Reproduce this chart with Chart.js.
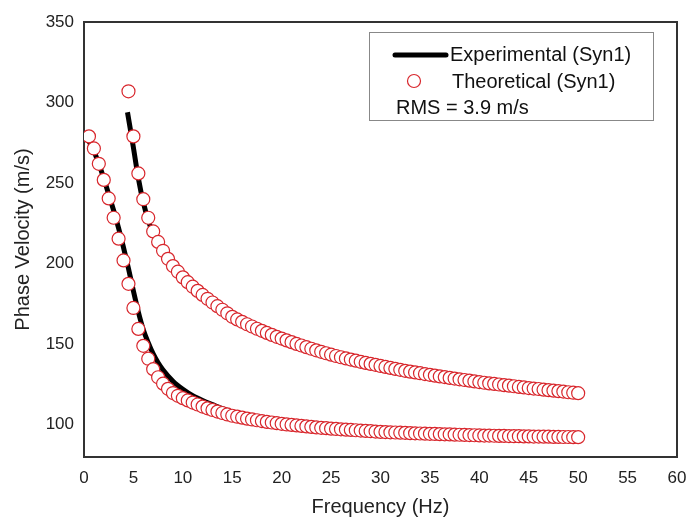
<!DOCTYPE html>
<html>
<head>
<meta charset="utf-8">
<script src="https://cdn.jsdelivr.net/npm/chart.js@4"></script>
<style>
  html, body { margin: 0; padding: 0; background: #fff; }
  #wrap { width: 688px; height: 522px; }
</style>
</head>
<body>
<div id="wrap"><canvas id="dispChart" width="688" height="522"></canvas></div>
<script>
  'use strict';

  // theoretical frequencies (Hz), shared by both modes
  var theoFreq = [0.5,1,1.5,2,2.5,3,3.5,4,4.5,5,5.5,6,6.5,7,7.5,8,8.5,9,9.5,10,
    10.5,11,11.5,12,12.5,13,13.5,14,14.5,15,15.5,16,16.5,17,17.5,18,18.5,19,19.5,20,
    20.5,21,21.5,22,22.5,23,23.5,24,24.5,25,25.5,26,26.5,27,27.5,28,28.5,29,29.5,30,
    30.5,31,31.5,32,32.5,33,33.5,34,34.5,35,35.5,36,36.5,37,37.5,38,38.5,39,39.5,40,
    40.5,41,41.5,42,42.5,43,43.5,44,44.5,45,45.5,46,46.5,47,47.5,48,48.5,49,49.5,50];

  // fundamental mode, theoretical (m/s)
  var theoVel0 = [279,271.5,262,252,240.5,228.5,215.5,202,187.5,172.5,
    159.5,149,141,134.5,129.5,125.5,122.3,119.7,118,116.5,
    115.1,113.8,112.6,111.3,110.2,109.2,108.2,107.3,106.4,105.6,
    105,104.4,103.8,103.3,102.8,102.3,101.8,101.4,101,100.6,
    100.2,99.9,99.6,99.3,99,98.7,98.4,98.1,97.9,97.6,
    97.4,97.2,97,96.8,96.6,96.4,96.2,96,95.8,95.6,
    95.5,95.3,95.2,95.1,95,94.8,94.7,94.6,94.5,94.4,
    94.3,94.2,94.1,94,93.9,93.8,93.7,93.6,93.5,93.4,
    93.3,93.3,93.2,93.1,93.1,93,92.9,92.9,92.8,92.8,
    92.7,92.7,92.6,92.6,92.5,92.5,92.4,92.4,92.3,92.3];

  // first higher mode, theoretical (m/s), starts at 4.5 Hz
  var theoFreq1 = theoFreq.slice(8);
  var theoVel1 = [307,279,
    256,240,228.5,220,213.5,208,203,198.5,195,191.5,
    188.5,185.7,183.1,180.6,178.2,175.9,173.6,171.4,169.2,167,
    165.4,163.9,162.4,161,159.6,158.3,157,155.8,154.6,153.5,
    152.4,151.3,150.2,149.2,148.2,147.2,146.2,145.3,144.4,143.5,
    142.7,141.9,141.2,140.5,139.8,139.1,138.4,137.8,137.2,136.5,
    135.9,135.3,134.7,134.1,133.5,133,132.5,132,131.5,131,
    130.5,130,129.6,129.1,128.7,128.2,127.8,127.4,126.9,126.5,
    126.1,125.7,125.4,125,124.6,124.3,123.9,123.5,123.2,122.8,
    122.5,122.2,121.8,121.5,121.2,120.9,120.6,120.2,119.9,119.6];

  // experimental curves
  var expFreq0 = [0.3,0.5,1,1.5,2,2.5,3,3.5,4,4.5,5,5.5,6,6.5,7,7.5,8,9,10,11,12,13,14,15,17,20,25,30,35,40,45,50];
  var expVel0 = [278,276,270,262,253,243,233,222,210,197,183,170,159,151,144,138.5,134,127,122,118,115,112.5,110,108,104.5,101.2,98,96,94.6,93.6,92.9,92.4];
  var expFreq1 = [4.4,5,5.5,6,6.5,7,8,9,10,12,15,20,25,30,35,40,45,50];
  var expVel1 = [294,272,253,238,227,218.5,207,198,190.5,180,166.5,153,143,136.2,130.8,126.3,122.6,119.5];

  var yTicks = [100,150,200,250,300,350];
  var legendLabels = ['Experimental (Syn1)', 'Theoretical (Syn1)'];
  var rmsText = 'RMS = 3.9 m/s';

  var circleColor = '#d8262c';
  var fontName = '"Liberation Sans", Arial, sans-serif';

  function pts(xs, ys) {
    var out = [];
    for (var i = 0; i < xs.length; i++) out.push({x: xs[i], y: ys[i]});
    return out;
  }

  var lineStyle = {
    showLine: true, borderColor: '#000', borderWidth: 5, pointRadius: 0,
    cubicInterpolationMode: 'monotone', fill: false, order: 2
  };
  var dotStyle = {
    showLine: false, pointRadius: 6.5, pointBorderWidth: 1.2,
    pointBorderColor: circleColor, pointBackgroundColor: '#fff', order: 1
  };

  var frameAndLegend = {
    id: 'frameAndLegend',
    beforeDatasetsDraw: function(chart) {
      var a = chart.chartArea, ctx = chart.ctx;
      ctx.save();
      ctx.strokeStyle = '#333';
      ctx.lineWidth = 2;
      ctx.strokeRect(a.left, a.top, a.right - a.left, a.bottom - a.top);
      ctx.restore();
    },
    afterDraw: function(chart) {
      var ctx = chart.ctx;
      ctx.save();
      ctx.fillStyle = '#fff';
      ctx.fillRect(369, 32, 284, 88);
      ctx.strokeStyle = '#888';
      ctx.lineWidth = 1;
      ctx.strokeRect(369.5, 32.5, 284, 88);
      // line sample
      ctx.strokeStyle = '#000';
      ctx.lineWidth = 5;
      ctx.lineCap = 'round';
      ctx.beginPath();
      ctx.moveTo(395, 55);
      ctx.lineTo(446, 55);
      ctx.stroke();
      // circle sample
      ctx.strokeStyle = circleColor;
      ctx.lineWidth = 1.2;
      ctx.beginPath();
      ctx.arc(414, 81, 6.5, 0, Math.PI * 2);
      ctx.stroke();
      ctx.fillStyle = '#111';
      ctx.font = '20px ' + fontName;
      ctx.textBaseline = 'middle';
      ctx.fillText(legendLabels[0], 450, 55);
      ctx.fillText(legendLabels[1], 452, 82);
      ctx.fillText(rmsText, 396, 108);
      ctx.restore();
    }
  };

  var ctx = document.getElementById('dispChart').getContext('2d');
  new Chart(ctx, {
    type: 'scatter',
    data: {
      datasets: [
        Object.assign({label: legendLabels[0], data: pts(expFreq0, expVel0)}, lineStyle),
        Object.assign({label: legendLabels[0] + ' M1', data: pts(expFreq1, expVel1)}, lineStyle),
        Object.assign({label: legendLabels[1], data: pts(theoFreq, theoVel0)}, dotStyle),
        Object.assign({label: legendLabels[1] + ' M1', data: pts(theoFreq1, theoVel1)}, dotStyle)
      ]
    },
    options: {
      responsive: false,
      animation: false,
      layout: { padding: { left: 0, top: 22, right: 11, bottom: 0 } },
      plugins: { legend: { display: false }, tooltip: { enabled: false } },
      scales: {
        x: {
          type: 'linear', min: 0, max: 60,
          grid: { display: false, drawTicks: false },
          border: { display: false },
          ticks: { stepSize: 5, padding: 11, color: '#222', font: { family: fontName, size: 17 } },
          title: { display: true, text: 'Frequency (Hz)', color: '#222',
                   font: { family: fontName, size: 20 }, padding: { top: 0, bottom: 3 } },
          afterFit: function(s) { s.height = 65; s.paddingLeft = 0; s.paddingRight = 0; }
        },
        y: {
          type: 'linear', min: 80, max: 350,
          grid: { display: false, drawTicks: false },
          border: { display: false },
          afterBuildTicks: function(s) { s.ticks = yTicks.map(function(v) { return {value: v}; }); },
          ticks: { padding: 10, color: '#222', font: { family: fontName, size: 17 } },
          title: { display: true, text: 'Phase Velocity (m/s)', color: '#222',
                   font: { family: fontName, size: 20 }, padding: { top: 11, bottom: 0 } },
          afterFit: function(s) { s.width = 84; s.paddingTop = 0; s.paddingBottom = 0; }
        }
      }
    },
    plugins: [frameAndLegend]
  });
</script>
</body>
</html>
